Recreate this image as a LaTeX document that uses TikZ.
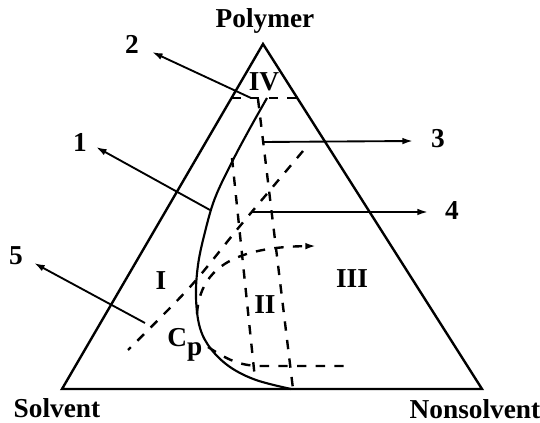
\documentclass[tikz,border=0pt]{standalone}
\usepackage{fontspec}
\setmainfont{Liberation Serif}
\usetikzlibrary{arrows.meta, calc}

\begin{document}
\begin{tikzpicture}[
    x=0.75pt, y=-0.75pt,
    >={Latex[length=8pt,width=5pt]},
    lbl/.style={font=\fontsize{20.5}{24}\selectfont\bfseries, inner sep=0pt},
    edge/.style={line width=1.8pt, line join=miter},
    bino/.style={line width=1.6pt},
    dsh/.style={line width=1.8pt, dash pattern=on 7pt off 7pt},
    arrow/.style={->, line width=1.4pt},
  ]
  \useasboundingbox (0,0) rectangle (540,423);
  % Triangle
  \coordinate (poly) at (263,44);
  \coordinate (solv) at (62,389);
  \coordinate (nons) at (482,389);
  \draw[edge] (poly) -- (solv) -- (nons) -- cycle;
  \node[lbl, anchor=base] (tpoly) at (265,28) {Polymer};
  \node[lbl, anchor=base] (tsolv) at (57,418) {Solvent};
  \node[lbl, anchor=base] (tnons) at (475,419) {Nonsolvent};
  % Region IV boundary
  \coordinate (ivl) at ($(poly)!0.157!(solv)$);
  \coordinate (ivr) at ($(poly)!0.157!(nons)$);
  \draw[dsh] (ivl) -- (ivr);
  % Binodal
  \draw[bino] plot[smooth, tension=0.6] coordinates {(267,98) (249,130) (232,162) (215,198) (205,232) (198,265) (196,298) (200,328) (211,349) (230,367) (256,380) (291,389)};
  % Dashed boundaries
  \draw[dsh] (258,99) -- (293,389);
  \draw[dsh] (232,158) -- (255,379);
  \draw[dsh] plot[smooth] coordinates {(303,151) (240,226) (190,287) (128,350)};
  \draw[dsh] (208,347) .. controls (228,360) and (240,366) .. (262,366) -- (353,366);
  \draw[dsh, ->] (197,314) .. controls (200,265) and (240,247) .. (316,246);
  % Region labels
  \node[lbl] (r4) at (264,82) {IV};
  \node[lbl] (r1) at (161,281) {I};
  \node[lbl] (r2) at (265,305) {II};
  \node[lbl] (r3) at (352,279) {III};
  \node[lbl, anchor=base west] (cp) at (167,347) {C\raisebox{-0.3em}{p}};
  % Numbered arrows
  \coordinate (s1) at (210,210); \coordinate (t1) at (96,147);
  \coordinate (s2) at (251,98);  \coordinate (t2) at (152,52);
  \coordinate (s3) at (263,142); \coordinate (t3) at (413,141);
  \coordinate (s4) at (252,212); \coordinate (t4) at (428,212);
  \coordinate (s5) at (145,323); \coordinate (t5) at (34,263);
  \node[lbl] (n1) at (80,142) {1};
  \node[lbl] (n2) at (132,44) {2};
  \node[lbl] (n3) at (438,139) {3};
  \node[lbl] (n4) at (452,211) {4};
  \node[lbl] (n5) at (16,256) {5};
  \draw[arrow] (s1) -- (t1);
  \draw[arrow] (s2) -- (t2);
  \draw[arrow] (s3) -- (t3);
  \draw[arrow] (s4) -- (t4);
  \draw[arrow] (s5) -- (t5);
\end{tikzpicture}
\end{document}
